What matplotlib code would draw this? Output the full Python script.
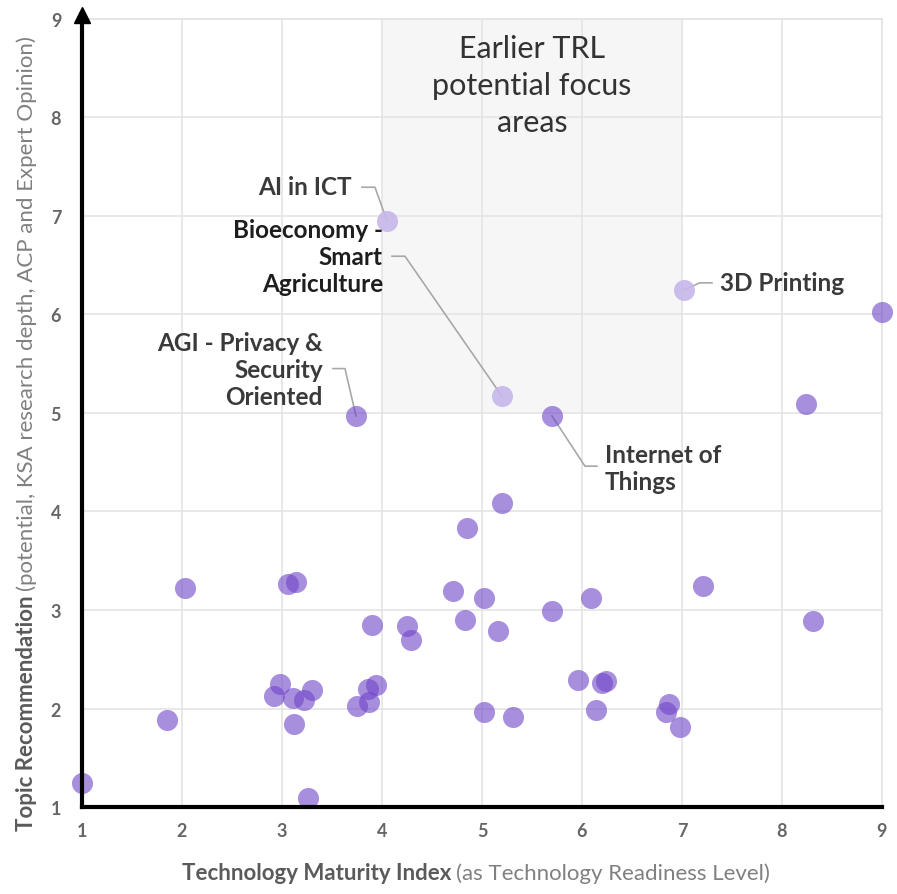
import matplotlib
matplotlib.use("Agg")
import matplotlib.pyplot as plt

# data points (TRL, recommendation)
trl = [1.00, 1.85, 2.03, 3.06, 3.14, 2.98, 2.92, 3.11, 3.22, 3.30, 3.12, 3.26,
       3.90, 4.25, 4.29, 3.94, 3.86, 3.87, 3.75, 4.71, 5.20, 4.85, 5.02, 4.83,
       5.16, 5.70, 6.09, 7.21, 8.31, 5.96, 6.20, 6.24, 5.02, 5.31, 6.14, 6.87,
       6.84, 6.98, 9.00, 8.24, 3.74, 5.70]
rec = [1.25, 1.88, 3.22, 3.26, 3.28, 2.25, 2.13, 2.11, 2.09, 2.19, 1.84, 1.09,
       2.85, 2.84, 2.70, 2.24, 2.20, 2.07, 2.03, 3.19, 4.09, 3.83, 3.12, 2.90,
       2.79, 2.99, 3.12, 3.24, 2.89, 2.29, 2.26, 2.28, 1.97, 1.92, 1.99, 2.05,
       1.97, 1.81, 6.02, 5.09, 4.97, 4.97]

# highlighted (lighter) topics
hl_trl = [4.05, 5.20, 7.02]
hl_rec = [6.95, 5.17, 6.25]

# labels: name, point, elbow, end of leader, text anchor
labels = ["AI in ICT", "Bioeconomy -\nSmart\nAgriculture", "AGI - Privacy &\nSecurity\nOriented",
          "3D Printing", "Internet of\nThings"]
lab_pt = [(4.05, 6.95), (5.20, 5.17), (3.74, 4.97), (7.02, 6.25), (5.70, 4.97)]
lab_elbow = [(3.93, 7.29), (4.23, 6.59), (3.63, 5.45), (7.18, 6.32), (6.03, 4.46)]
lab_end = [(3.80, 7.29), (4.10, 6.59), (3.51, 5.45), (7.30, 6.32), (6.15, 4.46)]
lab_txt = [(3.70, 7.30), (4.01, 6.59), (3.41, 5.44), (7.38, 6.32), (6.23, 4.44)]
lab_ha = ["right", "right", "right", "left", "left"]
lab_col = ["#3a3a3a", "#1e1e1e", "#3a3a3a", "#3a3a3a", "#3a3a3a"]

plt.rcParams['font.family'] = ['Lato', 'DejaVu Sans']

fig = plt.figure(figsize=(8.97, 8.95), dpi=100)
ax = fig.add_axes([0.0914, 0.097, 0.8918, 0.881])

# shaded zone
ax.axvspan(4, 7, ymin=0.5, ymax=1, color="#f6f6f6", zorder=0, lw=0)
ax.text(5.5, 8.84, "Earlier TRL\npotential focus\nareas", ha="center", va="top",
        fontsize=22, color="#333333", linespacing=1.38, zorder=1)

ax.set_xlim(1, 9)
ax.set_ylim(1, 9)
ax.set_xticks(range(1, 10))
ax.set_yticks(range(1, 10))
ax.grid(True, color="#e4e4e4", lw=1.2, zorder=0.5)
ax.set_axisbelow(True)
ax.tick_params(length=0, labelsize=13, colors="#666666")
ax.tick_params(axis="x", pad=11)
ax.tick_params(axis="y", pad=15)
for t in ax.get_xticklabels() + ax.get_yticklabels():
    t.set_fontweight("bold")

for s in ["top", "right"]:
    ax.spines[s].set_color("#e4e4e4")
    ax.spines[s].set_linewidth(1.2)
for s in ["left", "bottom"]:
    ax.spines[s].set_color("black")
    ax.spines[s].set_linewidth(3)
    ax.spines[s].set_zorder(5)
ax.plot(0, 1.005, marker="^", color="black", ms=12, transform=ax.transAxes,
        clip_on=False, zorder=6)

ax.scatter(trl, rec, s=230, color="#6f45c8", alpha=0.6, lw=0, zorder=3, clip_on=False)
ax.scatter(hl_trl, hl_rec, s=230, color="#c7b7ea", alpha=0.9, lw=0, zorder=3, clip_on=False)

for i in range(len(labels)):
    px, py = lab_pt[i]
    ex, ey = lab_elbow[i]
    nx, ny = lab_end[i]
    ax.plot([px, ex, nx], [py, ey, ny], color="#a8a8a8", lw=1.2, zorder=2)
    ax.text(lab_txt[i][0], lab_txt[i][1], labels[i], ha=lab_ha[i], va="center",
            fontsize=17.5, fontweight="bold", color=lab_col[i], linespacing=1.22, zorder=4)

# axis titles with mixed weights
fig.canvas.draw()
r = fig.canvas.get_renderer()
xb = fig.text(0.203, 0.017, "Technology Maturity Index", fontsize=16, fontweight="bold",
              color="#5a5a5a", ha="left", va="baseline")
bb = xb.get_window_extent(r).transformed(fig.transFigure.inverted())
fig.text(bb.x1 + 0.005, 0.017, "(as Technology Readiness Level)", fontsize=16,
         color="#808080", ha="left", va="baseline")

yb = fig.text(0.037, 0.071, "Topic Recommendation", fontsize=16, fontweight="bold",
              color="#5a5a5a", ha="left", va="baseline", rotation=90, rotation_mode="anchor")
bb = yb.get_window_extent(r).transformed(fig.transFigure.inverted())
fig.text(0.037, bb.y1 + 0.005, "(potential, KSA research depth, ACP and Expert Opinion)",
         fontsize=16, color="#808080", ha="left", va="baseline",
         rotation=90, rotation_mode="anchor")

fig.savefig("out.png", dpi=100)
